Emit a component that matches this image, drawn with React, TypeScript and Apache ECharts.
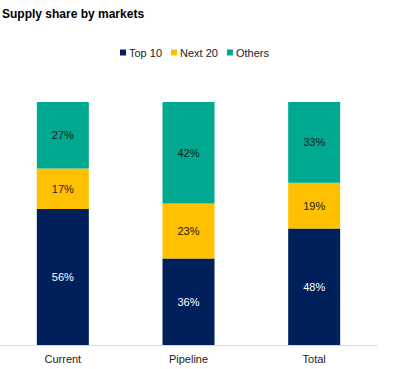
import React, { useEffect, useRef } from "react";
import * as echarts from "echarts";

const categories = ["Current", "Pipeline", "Total"];
const top10 = [56, 35.6, 47.9];
const next20 = [16.6, 22.6, 18.9];
const others = [27.4, 41.8, 33.2];
const seriesNames = ["Top 10", "Next 20", "Others"];
const colors = ["#00205B", "#FFC000", "#00A98F"];

export default function App() {
  const ref = useRef<HTMLDivElement>(null);
  useEffect(() => {
    if (!ref.current) return;
    const chart = echarts.init(ref.current, null, { renderer: "svg" });
    const font = "'Liberation Sans', Arial, sans-serif";
    const mk = (name: string, data: number[], color: string, labelColor: string) => ({
      name,
      type: "bar",
      stack: "s",
      data,
      barWidth: 52,
      itemStyle: { color },
      label: {
        show: true,
        position: "inside",
        color: labelColor,
        fontFamily: font,
        fontSize: 11,
        formatter: (p: any) => Math.round(p.value) + "%",
      },
    });
    chart.setOption({
      animation: false,
      title: {
        text: "Supply share by markets",
        left: -3,
        top: 3,
        textStyle: { fontFamily: font, fontSize: 12, fontWeight: "bold", color: "#000" },
      },
      legend: {
        top: 42,
        left: 115,
        icon: "rect",
        itemWidth: 6,
        itemHeight: 6,
        itemGap: 9,
        textStyle: { fontFamily: font, fontSize: 11, color: "#222", padding: [0, 0, 0, -2] },
        data: seriesNames,
      },
      grid: { left: -4, right: 26, top: 102, bottom: 24 },
      xAxis: {
        type: "category",
        data: categories,
        axisTick: { show: false },
        axisLine: { lineStyle: { color: "#d9d9d9" } },
        axisLabel: { fontFamily: font, fontSize: 11, color: "#222", margin: 8 },
      },
      yAxis: { type: "value", min: 0, max: 100, show: false, splitLine: { show: false } },
      series: [
        mk(seriesNames[0], top10, colors[0], "#ffffff"),
        mk(seriesNames[1], next20, colors[1], "#1a1a1a"),
        mk(seriesNames[2], others, colors[2], "#1a1a1a"),
      ],
    });
    return () => chart.dispose();
  }, []);
  return (
    <div
      ref={ref}
      style={{ position: "fixed", left: 0, top: 0, width: 403, height: 369, background: "#fff" }}
    />
  );
}
